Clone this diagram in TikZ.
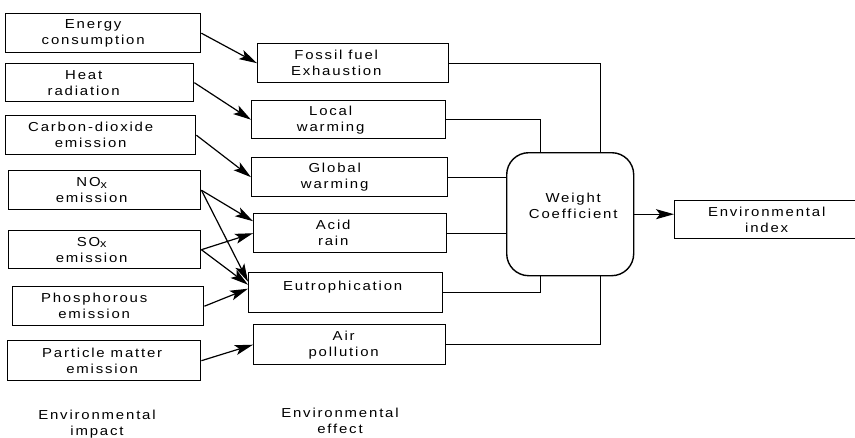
\documentclass[tikz,border=0pt]{standalone}
\usepackage{fontspec}
\setmainfont{Liberation Sans}[FakeStretch=1.15,LetterSpace=14]
\usetikzlibrary{arrows.meta,calc}
\begin{document}
\begin{tikzpicture}[x=1pt,y=-1pt,
  bx/.style={draw, line width=1.4pt, rectangle, inner sep=0pt, anchor=north west},
  tx/.style={align=center, inner sep=0pt, font=\fontsize{13}{16}\selectfont},
  arr/.style={line width=1.2pt, -{Stealth[length=18pt,width=10pt,inset=4pt]}},
  ln/.style={line width=0.9pt}]
\useasboundingbox (0,0) rectangle (855,437);
% left column
\node[bx, minimum width=195pt, minimum height=39pt] (e1) at (5,13) {};
\node[tx] (t1) at ($(e1.center)+(-10,0)$) {Energy\\consumption};
\node[bx, minimum width=188pt, minimum height=38pt] (e2) at (5,63) {};
\node[tx] (t2) at ($(e2.center)+(-16,0)$) {Heat\\radiation};
\node[bx, minimum width=190pt, minimum height=39pt] (e3) at (5,115) {};
\node[tx] (t3) at ($(e3.center)+(-10,0)$) {Carbon-dioxide\\emission};
\node[bx, minimum width=192pt, minimum height=39pt] (e4) at (8,170) {};
\node[tx] (t4) at ($(e4.center)+(-13,0)$) {NO\raisebox{-1.5pt}{\fontsize{11}{11}\selectfont x}\\emission};
\node[bx, minimum width=192pt, minimum height=38pt] (e5) at (8,230) {};
\node[tx] (t5) at ($(e5.center)+(-13,0)$) {SO\raisebox{-1.5pt}{\fontsize{11}{11}\selectfont x}\\emission};
\node[bx, minimum width=191pt, minimum height=39pt] (e6) at (12,286) {};
\node[tx] (t6) at ($(e6.center)+(-14,0)$) {Phosphorous\\emission};
\node[bx, minimum width=193pt, minimum height=40pt] (e7) at (7,340) {};
\node[tx] (t7) at ($(e7.center)+(-2,0)$) {Particle matter\\emission};
% middle column
\node[bx, minimum width=191pt, minimum height=39pt] (f1) at (257,43) {};
\node[tx] (u1) at ($(f1.center)+(-17,0)$) {Fossil fuel\\Exhaustion};
\node[bx, minimum width=194pt, minimum height=38pt] (f2) at (251,100) {};
\node[tx] (u2) at ($(f2.center)+(-18,0)$) {Local\\warming};
\node[bx, minimum width=196pt, minimum height=39pt] (f3) at (251,157) {};
\node[tx] (u3) at ($(f3.center)+(-15,0)$) {Global\\warming};
\node[bx, minimum width=193pt, minimum height=39pt] (f4) at (253,213) {};
\node[tx] (u4) at ($(f4.center)+(-17,0)$) {Acid\\rain};
\node[bx, minimum width=194pt, minimum height=40pt] (f5) at (248,272) {};
\node[tx] (u5) at ($(f5.center)+(-3,-6)$) {Eutrophication};
\node[bx, minimum width=192pt, minimum height=40pt] (f6) at (253,324) {};
\node[tx] (u6) at ($(f6.center)+(-6,0)$) {Air\\pollution};
% weight coefficient and index
\node[bx, rounded corners=22pt, minimum width=127pt, minimum height=123pt] (wc) at (506,152) {};
\node[tx] (wt) at ($(wc.center)+(3,-8)$) {Weight\\Coefficient};
\node[bx, minimum width=184pt, minimum height=38pt] (env) at (674,200) {};
\node[tx] (et) at ($(env.center)+(0,0.5)$) {Environmental\\index};
% bottom labels
\node[tx] (l1) at (97,424) {Environmental\\impact};
\node[tx] (l2) at (340,421) {Environmental\\effect};
% arrows left -> middle
\draw[arr] (e1.east) -- (f1.west);
\draw[arr] (e2.east) -- (f2.west);
\draw[arr] (e3.east) -- (f3.west);
\draw[arr] (e4.east) -- ($(f4.west)+(0,-12)$);
\draw[arr] (e4.east) -- ($(f5.west)+(0,-11)$);
\draw[arr] (e5.east) -- (f4.west);
\draw[arr] (e5.east) -- ($(f5.west)+(0,-8)$);
\draw[arr] (e6.east) -- ($(f5.west)+(0,-4)$);
\draw[arr] (e7.east) -- (f6.west);
% middle -> weight coefficient
\draw[ln] (f1.east) -| ($(wc.north)+(30,0)$);
\draw[ln] (f2.east) -| ($(wc.north)+(-30,0)$);
\draw[ln] (f3.east) -- (f3.east -| wc.west);
\draw[ln] (f4.east) -- (f4.east -| wc.west);
\draw[ln] (f5.east) -| ($(wc.south)+(-30,0)$);
\draw[ln] (f6.east) -| ($(wc.south)+(30,0)$);
\draw[arr] (wc.east) -- (wc.east -| env.west);
\end{tikzpicture}
\end{document}
